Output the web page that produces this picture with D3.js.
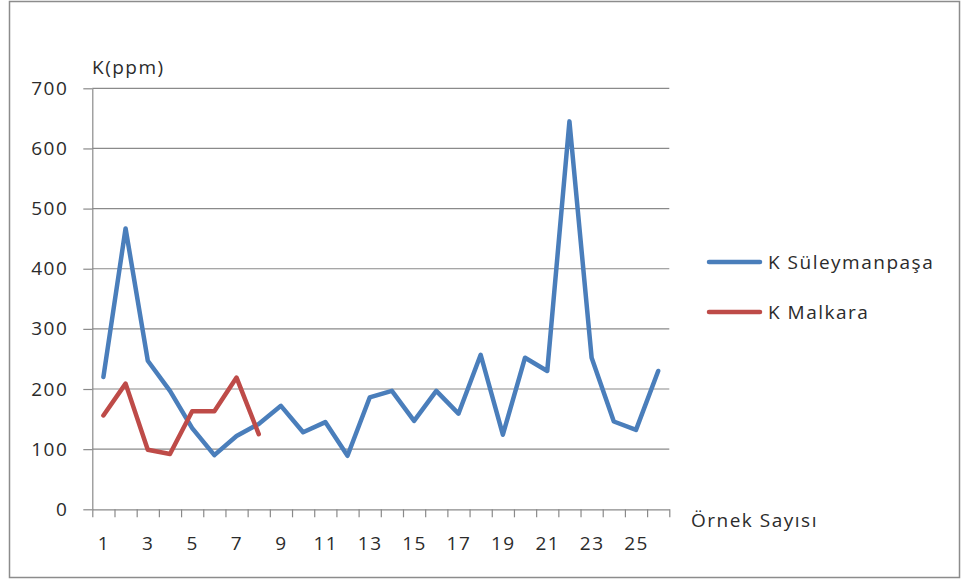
<!DOCTYPE html>
<html>
<head>
<meta charset="utf-8">
<script src="https://cdn.jsdelivr.net/npm/d3@7"></script>
<style>
  html, body { margin: 0; padding: 0; background: #fff; }
  svg text { font-family: "Open Sans", "Liberation Sans", sans-serif; fill: #2b2b2b; font-weight: 500; }
</style>
</head>
<body>
<svg id="chart" width="965" height="581"></svg>
<script>
// Sample numbers (Örnek Sayısı) along the x axis
const samples = d3.range(1, 27);
// Potassium, ppm, per sample
const kSuleymanpasa = [220, 467, 247, 197, 135, 90, 122, 142, 172, 128, 145, 89, 186, 197, 147, 197, 159, 257, 124, 252, 230, 645, 252, 146, 132, 230];
const kMalkara = [156, 209, 99, 92, 163, 163, 219, 125];
const yTicks = [0, 100, 200, 300, 400, 500, 600, 700];
const xLabelTicks = [1, 3, 5, 7, 9, 11, 13, 15, 17, 19, 21, 23, 25];
const seriesNames = ["K Süleymanpaşa", "K Malkara"];
const seriesColors = ["#4A7EBB", "#BE4B48"];

const svg = d3.select("#chart");
const plotLeft = 92.3, plotRight = 669.3, plotTop = 88.3, plotBottom = 509.3;
const textStyle = sel => sel
  .style("font-family", "'Open Sans', sans-serif").style("font-size", "19px")
  .style("font-weight", "500").style("letter-spacing", "1.5px").attr("fill", "#2b2b2b");

// Chart frame
svg.append("rect")
  .attr("x", 9.5).attr("y", 1.5).attr("width", 950).attr("height", 576)
  .attr("fill", "none").attr("stroke", "#8c8c8c").attr("stroke-width", 1.5);

// Category boundaries run 0.5..26.5 so ticks sit between samples
const x = d3.scaleLinear().domain([0.5, 26.5]).range([plotLeft, plotRight]);
const y = d3.scaleLinear().domain([0, 700]).range([plotBottom, plotTop]);

// Horizontal gridlines
svg.append("g").selectAll("line").data(yTicks.filter(d => d > 0)).join("line")
  .attr("x1", plotLeft).attr("x2", plotRight)
  .attr("y1", d => y(d)).attr("y2", d => y(d))
  .attr("stroke", "#8a8a8a").attr("stroke-width", 1.2);

// Y axis
const yAxis = svg.append("g").attr("transform", `translate(${plotLeft},0)`)
  .call(d3.axisLeft(y).tickValues(yTicks).tickSize(9).tickPadding(15).tickSizeOuter(0));
yAxis.select(".domain").attr("stroke", "#8a8a8a").attr("stroke-width", 1.2);
yAxis.selectAll(".tick line").attr("stroke", "#8a8a8a").attr("stroke-width", 1.2);
yAxis.selectAll(".tick text").call(textStyle);

// X axis: ticks between categories
const xTicks = d3.range(0.5, 26.6, 1);
const xAxis = svg.append("g").attr("transform", `translate(0,${plotBottom})`)
  .call(d3.axisBottom(x).tickValues(xTicks).tickSize(8).tickFormat("").tickSizeOuter(0));
xAxis.select(".domain").attr("stroke", "#8a8a8a").attr("stroke-width", 1.2);
xAxis.selectAll(".tick line").attr("stroke", "#8a8a8a").attr("stroke-width", 1.2);

// X labels centred on categories
const xLab = svg.append("g").attr("transform", `translate(0,${plotBottom})`)
  .call(d3.axisBottom(x).tickValues(xLabelTicks).tickSize(0).tickPadding(27).tickFormat(d3.format("d")));
xLab.select(".domain").remove();
xLab.selectAll(".tick text").call(textStyle);

// Axis titles
svg.append("text").attr("x", 92).attr("y", 74).call(textStyle).text("K(ppm)");
svg.append("text").attr("x", 691).attr("y", 527).call(textStyle).text("Örnek Sayısı");

// Series lines
const line = d3.line().x((d, i) => x(samples[i])).y(d => y(d));
[kSuleymanpasa, kMalkara].forEach((vals, i) => {
  svg.append("path").datum(vals)
    .attr("d", line)
    .attr("fill", "none")
    .attr("stroke", seriesColors[i])
    .attr("stroke-width", 4.5)
    .attr("stroke-linejoin", "round")
    .attr("stroke-linecap", "round");
});

// Legend
const legend = svg.append("g");
seriesNames.forEach((name, i) => {
  const ly = 262 + i * 50;
  legend.append("line")
    .attr("x1", 709).attr("x2", 760).attr("y1", ly).attr("y2", ly)
    .attr("stroke", seriesColors[i]).attr("stroke-width", 4.5).attr("stroke-linecap", "round");
  legend.append("text").attr("x", 768).attr("y", ly).attr("dy", "0.35em")
    .call(textStyle).text(name);
});
</script>
</body>
</html>
